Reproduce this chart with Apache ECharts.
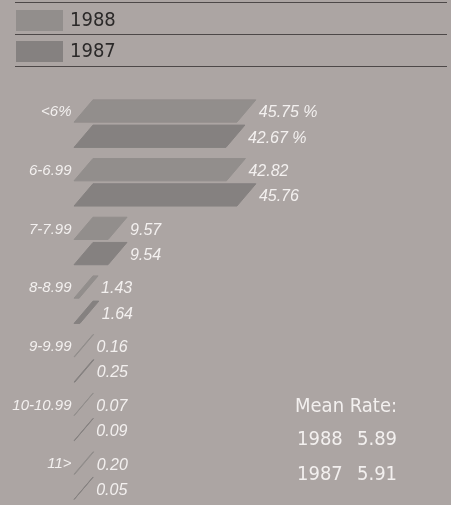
<!DOCTYPE html>
<html>
<head>
<meta charset="utf-8">
<script src="https://cdn.jsdelivr.net/npm/echarts@6/dist/echarts.min.js"></script>
<style>
  html, body { margin: 0; padding: 0; background: #aca5a3; }
  #chart { width: 451px; height: 505px; }
</style>
</head>
<body>
<div id="chart"></div>
<script>
// ---- Data ----
const categories = ['<6%', '6-6.99', '7-7.99', '8-8.99', '9-9.99', '10-10.99', '11>'];
const years = ['1988', '1987'];
const values1988 = [45.75, 42.82, 9.57, 1.43, 0.16, 0.07, 0.20];
const values1987 = [42.67, 45.76, 9.54, 1.64, 0.25, 0.09, 0.05];
const meanTitle = 'Mean Rate:';
const meanYears = ['1988', '1987'];
const meanRates = ['5.89', '5.91'];

// ---- Styles ----
const NARROW = "'DejaVu Sans Condensed', 'Liberation Sans', sans-serif";
const REG = "'Liberation Sans', Arial, sans-serif";
const colors = ['#928e8c', '#858180'];
const textLight = '#f3f0ef';

function makeRender(seriesIdx) {
  return function (params, api) {
    const ci = api.value(0);
    const v = api.value(1);
    const base = api.coord([0, ci]);
    const end = api.coord([v, ci]);
    const band = api.size([0, 1])[1];
    const h = band * 0.38;
    const gap = band * 0.025;
    const top = seriesIdx === 0 ? base[1] - gap - h : base[1] + gap;
    const bottom = top + h;
    const dx = 0.85 * h / 2;
    const x0 = base[0];
    const w = end[0] - x0;
    const color = api.visual('color');
    const children = [{
      type: 'polygon',
      shape: { points: [[x0 + dx, top], [x0 + w + dx, top], [x0 + w - dx, bottom], [x0 - dx, bottom]] },
      style: { fill: color, stroke: color, lineWidth: 1 }
    }, {
      type: 'text',
      style: {
        x: x0 + w + dx + 3, y: top + h / 2 + 2,
        text: v.toFixed(2) + (ci === 0 ? ' %' : ''),
        fill: textLight, font: 'italic 16px ' + REG,
        textAlign: 'left', textVerticalAlign: 'middle'
      }
    }];
    if (seriesIdx === 0) {
      children.push({
        type: 'text',
        style: {
          x: x0 - 12, y: top + h / 2 + 1,
          text: categories[ci],
          fill: textLight, font: 'italic 15px ' + REG,
          textAlign: 'right', textVerticalAlign: 'middle'
        }
      });
    }
    return { type: 'group', children: children };
  };
}

function label(txt, x, y) {
  return { type: 'text', x: x, y: y, silent: true,
    style: { text: txt, fill: textLight, font: '20px ' + NARROW, textAlign: 'left', textVerticalAlign: 'middle' } };
}

const chart = echarts.init(document.getElementById('chart'), null, { renderer: 'canvas' });
const lineStyle = { stroke: '#4d4848', lineWidth: 1 };
chart.setOption({
  backgroundColor: '#aca5a3',
  animation: false,
  legend: {
    data: years,
    orient: 'vertical',
    left: 16, top: 10, padding: 0,
    itemWidth: 47, itemHeight: 21, itemGap: 10,
    icon: 'rect',
    selectedMode: false,
    textStyle: { fontFamily: NARROW, fontSize: 20, lineHeight: 21, color: '#2b2929', padding: [0, 0, 0, 2] }
  },
  grid: { left: 83.5, width: 356, top: 94.3, height: 415.3 },
  xAxis: { type: 'value', min: 0, max: 100, show: false },
  yAxis: { type: 'category', data: categories, inverse: true, show: false },
  series: [
    {
      name: years[0], type: 'custom',
      itemStyle: { color: colors[0] },
      renderItem: makeRender(0),
      data: values1988.map((v, i) => [i, v])
    },
    {
      name: years[1], type: 'custom',
      itemStyle: { color: colors[1] },
      renderItem: makeRender(1),
      data: values1987.map((v, i) => [i, v])
    }
  ],
  graphic: [
    { type: 'line', shape: { x1: 15, y1: 2.5, x2: 447, y2: 2.5 }, style: lineStyle, silent: true },
    { type: 'line', shape: { x1: 15, y1: 34.5, x2: 447, y2: 34.5 }, style: lineStyle, silent: true },
    { type: 'line', shape: { x1: 15, y1: 66.5, x2: 447, y2: 66.5 }, style: lineStyle, silent: true },
    label(meanTitle, 295, 407),
    label(meanYears[0], 297, 440),
    label(meanRates[0], 357, 440),
    label(meanYears[1], 297, 475),
    label(meanRates[1], 357, 475)
  ]
});
</script>
</body>
</html>
